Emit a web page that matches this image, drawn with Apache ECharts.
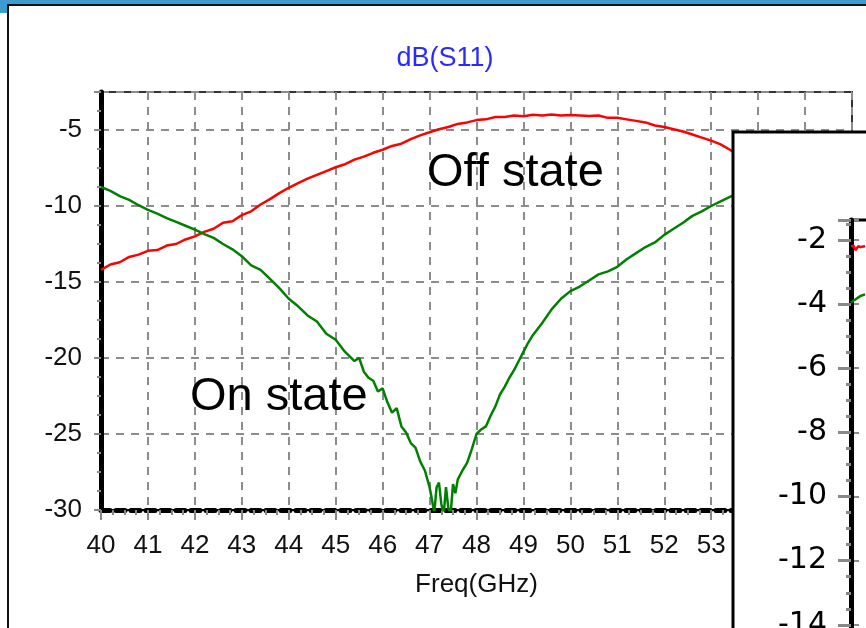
<!DOCTYPE html>
<html>
<head>
<meta charset="utf-8">
<script src="https://cdn.jsdelivr.net/npm/echarts@6/dist/echarts.min.js"></script>
<style>
  html, body { margin: 0; padding: 0; background: #fff; }
  #chart { width: 866px; height: 628px; }
</style>
</head>
<body>
<div id="chart"></div>
<script>
// S11 magnitude (dB) versus frequency (GHz), switch off / on state
const freqOff = [40.0, 40.2, 40.4, 40.6, 40.8, 41.0, 41.2, 41.4, 41.6, 41.8,
  42.0, 42.2, 42.4, 42.6, 42.8, 43.0, 43.2, 43.4, 43.6, 43.8,
  44.0, 44.2, 44.4, 44.6, 44.8, 45.0, 45.2, 45.4, 45.6, 45.8,
  46.0, 46.2, 46.4, 46.6, 46.8, 47.0, 47.2, 47.4, 47.6, 47.8,
  48.0, 48.2, 48.4, 48.6, 48.8, 49.0, 49.2, 49.4, 49.6, 49.8,
  50.0, 50.2, 50.4, 50.6, 50.8, 51.0, 51.2, 51.4, 51.6, 51.8,
  52.0, 52.2, 52.4, 52.6, 52.8, 53.0, 53.2, 53.4, 53.6];
const offState = [-14.2, -13.85, -13.7, -13.35, -13.2, -12.95, -12.9, -12.6, -12.5, -12.2,
  -12.0, -11.7, -11.5, -11.1, -11.0, -10.6, -10.35, -9.9, -9.55, -9.15,
  -8.8, -8.5, -8.2, -7.95, -7.7, -7.45, -7.25, -6.95, -6.75, -6.5,
  -6.3, -6.05, -5.9, -5.6, -5.35, -5.15, -4.95, -4.8, -4.6, -4.5,
  -4.35, -4.3, -4.15, -4.15, -4.05, -4.1, -4.0, -4.05, -3.98, -4.05,
  -4.02, -4.05, -4.08, -4.05, -4.2, -4.2, -4.3, -4.4, -4.5, -4.7,
  -4.8, -4.95, -5.1, -5.3, -5.5, -5.7, -5.95, -6.3, -6.6];

const freqOn = [40.0, 40.2, 40.4, 40.6, 40.8, 41.0, 41.2, 41.4, 41.6, 41.8,
  42.0, 42.2, 42.4, 42.6, 42.8, 43.0, 43.2, 43.4, 43.6, 43.8,
  44.0, 44.2, 44.4, 44.6, 44.8, 45.0, 45.2, 45.4, 45.5, 45.6,
  45.7, 45.8, 45.9, 46.0, 46.1, 46.2, 46.3, 46.4, 46.5, 46.6,
  46.7, 46.8, 46.9, 47.0, 47.05, 47.1, 47.15, 47.2, 47.25, 47.3,
  47.35, 47.4, 47.45, 47.5, 47.55, 47.6, 47.7, 47.8, 47.9, 48.0,
  48.1, 48.2, 48.3, 48.4, 48.5, 48.6, 48.7, 48.8, 48.9, 49.0,
  49.1, 49.2, 49.4, 49.6, 49.8, 50.0, 50.2, 50.4, 50.6, 50.8,
  51.0, 51.2, 51.4, 51.6, 51.8, 52.0, 52.2, 52.4, 52.6, 52.8,
  53.0, 53.2, 53.4, 53.6];
const onState = [-8.75, -9.0, -9.35, -9.6, -9.95, -10.25, -10.5, -10.8, -11.05, -11.3,
  -11.55, -11.85, -12.1, -12.5, -12.85, -13.3, -13.9, -14.2, -14.8, -15.4,
  -16.1, -16.6, -17.2, -17.6, -18.4, -18.8, -19.6, -20.2, -20.0, -20.9,
  -21.3, -21.5, -22.2, -22.0, -22.9, -23.6, -23.3, -24.5, -24.9, -25.6,
  -25.9, -26.8, -27.4, -28.5, -29.3, -30.2, -28.5, -28.2, -29.6, -30.3,
  -28.5, -29.9, -30.2, -28.3, -28.9, -28.0, -27.4, -26.9, -26.0, -25.0,
  -24.7, -24.5, -23.8, -23.2, -22.4, -21.9, -21.3, -20.8, -20.2, -19.6,
  -19.0, -18.5, -17.7, -16.8, -16.1, -15.6, -15.3, -14.9, -14.5, -14.3,
  -14.0, -13.5, -13.1, -12.7, -12.4, -11.9, -11.5, -11.1, -10.65, -10.35,
  -10.0, -9.7, -9.4, -9.1];

// second plot window (partly hidden behind the frame edge)
const insetFreq = [40.0, 40.05, 40.1, 40.15, 40.2, 40.3];
const insetOff = [-2.2, -2.18, -2.32, -2.2, -2.22, -2.2];
const insetOn = [-3.95, -3.9, -3.85, -3.8, -3.75, -3.7];

const freqRange = [40, 56];
const dbRange = [-30, -2.5];
const insetDbRange = [-16, -1.38];

const FONT = '"Liberation Sans", Arial, Helvetica, sans-serif';
const GRID_DASH = { type: [8, 7], color: '#8c8c8c', width: 2 };

function pairs(xs, ys) { return xs.map((x, i) => [x, ys[i]]); }

const chart = echarts.init(document.getElementById('chart'), null, { renderer: 'canvas' });

chart.setOption({
  animation: false,
  backgroundColor: '#fff',
  title: {
    text: 'dB(S11)',
    left: 440, top: 40, textAlign: 'center',
    textStyle: { color: '#2a2aff', fontSize: 27, fontWeight: 'normal', fontFamily: FONT }
  },
  grid: [
    { left: 101, top: 92, width: 751, height: 418, show: true, outerBoundsMode: 'none',
      borderColor: '#333', borderWidth: 2, backgroundColor: 'transparent' },
    { left: 851, top: 220, width: 751, height: 469, show: true, z: 110, outerBoundsMode: 'none',
      borderColor: '#000', borderWidth: 3, backgroundColor: 'transparent' }
  ],
  xAxis: [
    { gridIndex: 0, type: 'value', min: freqRange[0], max: freqRange[1], interval: 1,
      axisLine: { show: true, onZero: false, lineStyle: { color: '#000', width: 2 } },
      axisTick: { show: true, length: 10, lineStyle: { color: '#888', width: 2 } },
      minorTick: { show: true, splitNumber: 4, length: 5, lineStyle: { color: '#888', width: 2 } },
      axisLabel: { fontSize: 26, color: '#111', margin: 23, fontFamily: FONT },
      splitLine: { show: true, lineStyle: GRID_DASH },
      name: 'Freq(GHz)', nameLocation: 'middle', nameGap: 62,
      nameTextStyle: { fontSize: 26, color: '#111', fontFamily: FONT } },
    { gridIndex: 0, type: 'value', min: freqRange[0], max: freqRange[1], position: 'bottom',
      axisLine: { show: true, onZero: false, lineStyle: { color: '#000', width: 5, type: [9, 6] } },
      axisTick: { show: false }, axisLabel: { show: false }, splitLine: { show: false } },
    { gridIndex: 1, type: 'value', min: freqRange[0], max: freqRange[1], show: false,
      splitLine: { show: false } }
  ],
  yAxis: [
    { gridIndex: 0, type: 'value', min: dbRange[0], max: dbRange[1], interval: 5,
      axisLine: { show: true, onZero: false, lineStyle: { color: '#000', width: 5 } },
      axisTick: { show: true, length: 7, lineStyle: { color: '#888', width: 2 } },
      minorTick: { show: true, splitNumber: 4, length: 4, lineStyle: { color: '#888', width: 2 } },
      axisLabel: { fontSize: 26, color: '#111', margin: 19, fontFamily: FONT, showMaxLabel: false },
      splitLine: { show: true, lineStyle: GRID_DASH } },
    { gridIndex: 1, type: 'value', min: insetDbRange[0], max: insetDbRange[1], interval: 2, z: 110,
      axisLine: { show: true, onZero: false, lineStyle: { color: '#000', width: 5 } },
      axisTick: { show: true, length: 13, lineStyle: { color: '#888', width: 3 } },
      minorTick: { show: true, splitNumber: 4, length: 5, lineStyle: { color: '#888', width: 3 } },
      axisLabel: { fontSize: 30, color: '#000', margin: 24, fontFamily: '"DejaVu Sans", sans-serif', showMaxLabel: false },
      splitLine: { show: true, lineStyle: GRID_DASH } }
  ],
  series: [
    { name: 'Off state', type: 'line', xAxisIndex: 0, yAxisIndex: 0, data: pairs(freqOff, offState),
      showSymbol: false, clip: true, z: 3, lineStyle: { color: '#ff0000', width: 2.5 } },
    { name: 'On state', type: 'line', xAxisIndex: 0, yAxisIndex: 0, data: pairs(freqOn, onState),
      showSymbol: false, clip: true, z: 3, lineStyle: { color: '#008000', width: 2.5 } },
    { name: 'Off (2)', type: 'line', xAxisIndex: 2, yAxisIndex: 1, data: pairs(insetFreq, insetOff),
      showSymbol: false, clip: true, z: 120, lineStyle: { color: '#ff0000', width: 2.5 } },
    { name: 'On (2)', type: 'line', xAxisIndex: 2, yAxisIndex: 1, data: pairs(insetFreq, insetOn),
      showSymbol: false, clip: true, z: 120, lineStyle: { color: '#008000', width: 2.5 } }
  ],
  graphic: [
    // window frame
    { type: 'rect', z: 200, shape: { x: 0, y: 0, width: 866, height: 4 }, style: { fill: '#3c9ccf' } },
    { type: 'rect', z: 200, shape: { x: 0, y: 0, width: 7, height: 13 }, style: { fill: '#3c9ccf' } },
    { type: 'line', z: 200, shape: { x1: 7, y1: 5, x2: 866, y2: 5 }, style: { stroke: '#111', lineWidth: 2 } },
    { type: 'line', z: 200, shape: { x1: 8, y1: 5, x2: 8, y2: 628 }, style: { stroke: '#111', lineWidth: 2 } },
    // second plot window lying on top
    { type: 'rect', z: 100, shape: { x: 733, y: 132, width: 300, height: 600 },
      style: { fill: '#fff', stroke: '#000', lineWidth: 3 } },
    // state annotations
    { type: 'text', z: 10, x: 427, y: 173,
      style: { text: 'Off state', fill: '#000', font: '47px ' + FONT, align: 'left', verticalAlign: 'middle' } },
    { type: 'text', z: 10, x: 190, y: 397,
      style: { text: 'On state', fill: '#000', font: '47px ' + FONT, align: 'left', verticalAlign: 'middle' } }
  ]
});
</script>
</body>
</html>
